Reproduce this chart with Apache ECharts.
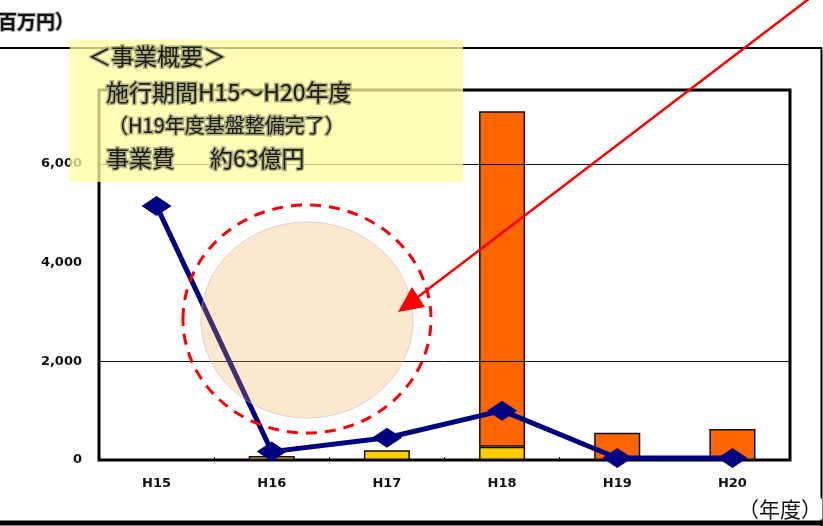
<!DOCTYPE html>
<html>
<head>
<meta charset="utf-8">
<script src="https://cdn.jsdelivr.net/npm/echarts@6/dist/echarts.min.js"></script>
<style>
  html, body { margin: 0; padding: 0; background: #fff; }
  #chart { width: 823px; height: 526px; }
</style>
</head>
<body>
<div id="chart"></div>
<script>
// Fiscal years (Heisei)
const years = ['H15', 'H16', 'H17', 'H18', 'H19', 'H20'];
// Annual spending, million yen: lower (yellow) and upper (orange) parts of each stacked bar
const yellowVals = [null, 80, 200, 270, null, null];
const orangeVals = [null, null, null, 6800, 550, 630];
// Line series with diamond markers
const lineVals = [5150, 170, 450, 1000, 40, 40];
// Horizontal reference lines
const refLines = [2000, 6000];

const JP = '"Noto Sans CJK JP", "Noto Sans", sans-serif';

const chart = echarts.init(document.getElementById('chart'), null, { renderer: 'canvas' });

// Summary box text style
function boxText(text, size) {
  return {
    text: text, fontFamily: JP, fontSize: size, fill: '#1a1a1a',
    stroke: 'rgba(170,170,120,0.9)', lineWidth: 3,
    textVerticalAlign: 'middle'
  };
}

chart.setOption({
  animation: false,
  backgroundColor: '#fff',
  grid: {
    left: 99, right: 33, top: 90, bottom: 66,
    show: true, borderColor: '#000', borderWidth: 3, backgroundColor: '#fff'
  },
  xAxis: {
    type: 'category',
    data: years,
    axisLine: { show: false },
    axisTick: { show: true, inside: true, length: 3, lineStyle: { color: '#000', width: 1 } },
    axisLabel: { color: '#111', fontFamily: '"DejaVu Sans", sans-serif', fontWeight: 'bold',
      fontSize: 13, margin: 17 }
  },
  yAxis: {
    type: 'value',
    min: 0, max: 7500, interval: 2000,
    axisLine: { show: false },
    axisTick: { show: false },
    splitLine: { show: false },
    axisLabel: {
      showMaxLabel: false,
      color: '#111', fontFamily: '"DejaVu Sans", sans-serif', fontWeight: 'bold', fontSize: 13,
      margin: 17,
      formatter: v => v.toLocaleString('en-US')
    }
  },
  series: [
    {
      name: 'lower', type: 'bar', stack: 'cost', data: yellowVals, barWidth: '40%',
      itemStyle: { color: '#FFCC00', borderColor: '#111', borderWidth: 1.5 }
    },
    {
      name: 'upper', type: 'bar', stack: 'cost', data: orangeVals, barWidth: '40%',
      itemStyle: { color: '#FF6600', borderColor: '#111', borderWidth: 1.5 },
      markLine: {
        silent: true, symbol: 'none', label: { show: false },
        lineStyle: { color: '#111', width: 1, type: 'solid' },
        data: refLines.map(v => ({ yAxis: v }))
      }
    },
    {
      name: 'line', type: 'line', data: lineVals, z: 5,
      lineStyle: { color: '#000080', width: 5 },
      itemStyle: { color: '#000080' },
      symbol: 'diamond', symbolSize: [30, 20], showSymbol: true
    }
  ],
  graphic: [
    // outer frame
    { type: 'line', z: 1, shape: { x1: 0, y1: 48, x2: 822, y2: 48 }, style: { stroke: '#000', lineWidth: 2 } },
    { type: 'line', z: 1, shape: { x1: 821.5, y1: 48, x2: 821.5, y2: 526 }, style: { stroke: '#000', lineWidth: 2 } },
    { type: 'line', z: 1, shape: { x1: 0, y1: 523, x2: 823, y2: 523 }, style: { stroke: '#000', lineWidth: 5 } },
    // unit label
    { type: 'text', z: 80, x: 74, y: 22, style: { text: '（百万円）', fontFamily: JP, fontSize: 19, fontWeight: 'bold',
      fill: '#111', textAlign: 'right', textVerticalAlign: 'middle', stroke: 'rgba(150,150,150,0.7)', lineWidth: 2 } },
    // year label
    { type: 'text', z: 80, x: 822, y: 509, style: { text: '（年度）', fontFamily: JP, fontSize: 21,
      fill: '#111', textAlign: 'right', textVerticalAlign: 'middle', backgroundColor: '#fff' } },
    // highlighted area
    { type: 'ellipse', z: 50, shape: { cx: 307, cy: 320, rx: 106, ry: 98 },
      style: { fill: 'rgba(245,175,80,0.27)', stroke: 'rgba(190,190,190,0.6)', lineWidth: 1 } },
    { type: 'ellipse', z: 51, shape: { cx: 307, cy: 319, rx: 124, ry: 114 },
      style: { fill: null, stroke: '#FF0000', lineWidth: 3, lineDash: [11, 8] } },
    // summary box
    { type: 'rect', z: 60, shape: { x: 70, y: 40, width: 393, height: 142 },
      style: { fill: 'rgba(255,255,160,0.75)' } },
    { type: 'text', z: 61, x: 88, y: 56, style: boxText('＜事業概要＞', 23) },
    { type: 'text', z: 61, x: 106, y: 92, style: boxText('施行期間H15～H20年度', 23) },
    { type: 'text', z: 61, x: 108, y: 125, style: boxText('（H19年度基盤整備完了）', 20) },
    { type: 'text', z: 61, x: 106, y: 158, style: boxText('事業費', 23) },
    { type: 'text', z: 61, x: 210, y: 158, style: boxText('約63億円', 23) },
    // pointer arrow
    { type: 'line', z: 70, shape: { x1: 810, y1: -2, x2: 414, y2: 300 }, style: { stroke: '#FF0000', lineWidth: 2.5 } },
    { type: 'polygon', z: 70, shape: { points: [[398, 312], [425, 307], [412, 287]] }, style: { fill: '#FF0000' } }
  ]
});
</script>
</body>
</html>
